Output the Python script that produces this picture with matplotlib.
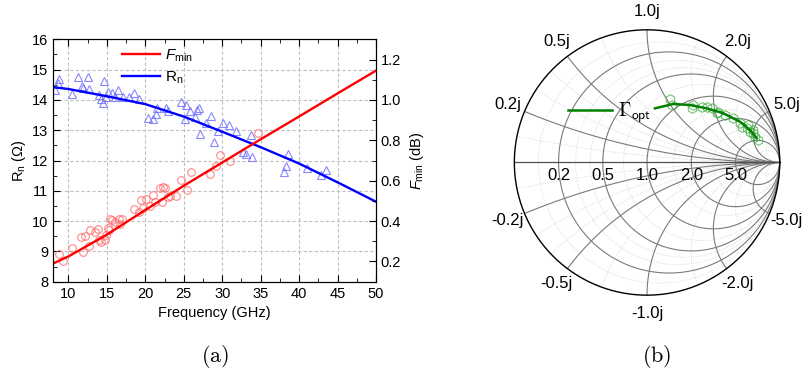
import numpy as np
import matplotlib
matplotlib.use('Agg')
import matplotlib.pyplot as plt
from matplotlib.ticker import MultipleLocator, AutoMinorLocator
from matplotlib.lines import Line2D

plt.rcParams['font.family'] = ['Liberation Sans', 'DejaVu Sans']
plt.rcParams['mathtext.fontset'] = 'custom'
plt.rcParams['mathtext.rm'] = 'Liberation Sans'
plt.rcParams['mathtext.it'] = 'Liberation Sans:italic'

# fitted noise parameters vs frequency
freq_fit = [8, 10, 15, 20, 25, 30, 35, 40, 45, 50]
fmin_fit = [0.19, 0.225, 0.333, 0.455, 0.575, 0.69, 0.805, 0.918, 1.032, 1.145]
rn_fit = [14.42, 14.36, 14.12, 13.86, 13.45, 12.95, 12.44, 11.9, 11.28, 10.64]

# measured Rn (ohm)
rn_freq = [8.2, 8.6, 8.83, 10.43, 11.3, 11.74, 11.9, 12.5, 12.65, 14.0, 14.26, 14.47,
           14.69, 14.9, 15.12, 15.7, 16.0, 16.5, 17.1, 17.9, 18.5, 19.2, 20.4, 21.0,
           21.4, 21.55, 22.7, 22.9, 24.7, 25.3, 25.1, 25.85, 26.4, 26.7, 27.0, 27.06,
           27.85, 28.5, 28.9, 29.45, 30.1, 30.9, 31.75, 32.7, 33.1, 33.8, 33.9, 38.1,
           38.35, 38.6, 41.0, 42.8, 43.55]
rn_meas = [14.33, 14.55, 14.69, 14.18, 14.77, 14.46, 14.4, 14.75, 14.35, 14.16, 14.02, 13.89,
           14.62, 14.09, 14.27, 14.24, 14.1, 14.33, 14.1, 14.1, 14.24, 14.03, 13.39, 13.36,
           13.52, 13.72, 13.72, 13.63, 13.94, 13.83, 13.36, 13.63, 13.45, 13.67, 13.72, 12.86,
           13.23, 13.47, 12.62, 12.97, 13.23, 13.17, 12.99, 12.27, 12.2, 12.84, 12.13, 11.63,
           11.82, 12.22, 11.74, 11.52, 11.69]

# measured Fmin (dB)
f_freq = [8.83, 9.26, 10.48, 11.65, 11.87, 12.2, 12.65, 12.8, 13.4, 13.86, 13.95, 14.26,
          14.7, 14.9, 15.12, 15.34, 15.47, 15.7, 16.0, 16.55, 16.7, 16.99, 18.47, 19.16,
          19.47, 19.68, 20.1, 20.55, 21.0, 21.2, 21.85, 22.16, 22.3, 22.6, 22.9, 23.2,
          24.0, 24.7, 25.46, 25.9, 28.45, 29.15, 29.7, 31.06, 34.67]
f_meas = [0.238, 0.2, 0.266, 0.321, 0.246, 0.324, 0.275, 0.354, 0.346, 0.363, 0.304, 0.296,
          0.308, 0.329, 0.366, 0.358, 0.409, 0.404, 0.396, 0.412, 0.384, 0.412, 0.462, 0.445,
          0.503, 0.467, 0.508, 0.475, 0.528, 0.495, 0.562, 0.495, 0.57, 0.562, 0.52, 0.523,
          0.525, 0.603, 0.553, 0.641, 0.633, 0.674, 0.727, 0.699, 0.835]

# optimum source reflection coefficient
gopt_re = [0.06, 0.198, 0.324, 0.45, 0.575, 0.701, 0.776, 0.827]
gopt_im = [0.408, 0.441, 0.433, 0.408, 0.371, 0.307, 0.245, 0.182]
gmeas_re = [0.173, 0.186, 0.337, 0.349, 0.45, 0.487, 0.537, 0.588, 0.65, 0.701, 0.713,
            0.751, 0.776, 0.801, 0.814, 0.839, 0.801, 0.763, 0.412, 0.525]
gmeas_im = [0.476, 0.433, 0.408, 0.433, 0.42, 0.408, 0.383, 0.358, 0.333, 0.295, 0.27,
            0.258, 0.232, 0.22, 0.194, 0.17, 0.245, 0.283, 0.42, 0.371]

smith_major = [0.2, 0.5, 1.0, 2.0, 5.0]
smith_minor = [0.1, 0.3, 0.4, 0.7, 1.5, 3.0, 10.0]

fig = plt.figure(figsize=(8.06, 3.74), dpi=100)

# ---- (a) noise parameters ----
ax = fig.add_axes([0.0658, 0.2468, 0.4007, 0.6481])
ax2 = ax.twinx()
ax.plot(rn_freq, rn_meas, '^', ms=6, mfc='none', mec='#6a6aff', mew=0.8, alpha=0.8)
ax2.plot(f_freq, f_meas, 'o', ms=5.5, mfc='none', mec='#ff6a6a', mew=0.8, alpha=0.8)
ax2.plot(freq_fit, fmin_fit, color='red', lw=1.7)
ax.plot(freq_fit, rn_fit, color='blue', lw=1.7)

ax.set_xlim(8, 50)
ax.set_ylim(8, 16)
ax2.set_ylim(0.1, 1.3)
ax.xaxis.set_major_locator(MultipleLocator(5))
ax.xaxis.set_minor_locator(AutoMinorLocator(2))
ax.yaxis.set_major_locator(MultipleLocator(1))
ax.yaxis.set_minor_locator(AutoMinorLocator(2))
ax2.yaxis.set_major_locator(MultipleLocator(0.2))
ax2.yaxis.set_minor_locator(AutoMinorLocator(2))
ax2.set_yticks(np.arange(0.2, 1.21, 0.2))
ax2.set_yticklabels(['0.2', '0.4', '0.6', '0.8', '1.0', '1.2'])
ax.grid(True, which='major', ls=(0, (3, 2)), color='#c0c0c0', lw=0.8)
ax.tick_params(which='both', direction='in', top=True, labelsize=10.5)
ax.tick_params(which='major', length=5)
ax.tick_params(which='minor', length=3)
ax2.tick_params(which='both', direction='in', labelsize=10.5)
ax2.tick_params(which='major', length=5)
ax2.tick_params(which='minor', length=3)
ax.set_xlabel('Frequency (GHz)', fontsize=10.5, labelpad=4)
ax.set_ylabel('R$_\\mathrm{n}$ (Ω)', fontsize=10.5, labelpad=3)
ax2.set_ylabel('$F_\\mathrm{min}$ (dB)', fontsize=10.5, rotation=90, labelpad=5)

handles = [Line2D([], [], color='red', lw=1.7), Line2D([], [], color='blue', lw=1.7)]
ax.legend(handles, ['$F_\\mathrm{min}$', 'R$_\\mathrm{n}$'], loc='upper left',
          bbox_to_anchor=(0.213, 0.965), frameon=False, fontsize=11, borderpad=0,
          handlelength=2.5, handletextpad=0.35, labelspacing=0.35, borderaxespad=0)

# ---- (b) Smith chart of Gamma_opt ----
sax = fig.add_axes([0.6052, 0.1398, 0.3951, 0.8515])
sax.set_xlim(-1.2, 1.2)
sax.set_ylim(-1.2, 1.2)
sax.set_aspect('equal')
sax.axis('off')

theta = np.linspace(0, 2 * np.pi, 400)
rr = np.concatenate([[0.0], np.logspace(-3, 4, 500)])


def const_r(r):
    c, rad = r / (1 + r), 1 / (1 + r)
    return c + rad * np.cos(theta), rad * np.sin(theta)


def const_x(x):
    g = (rr + 1j * x - 1) / (rr + 1j * x + 1)
    return np.append(g.real, 1.0), np.append(g.imag, 0.0)


for v in smith_minor:
    sax.plot(*const_r(v), color='#cfcfcf', lw=0.6, ls=':')
    sax.plot(*const_x(v), color='#cfcfcf', lw=0.6, ls=':')
    sax.plot(*const_x(-v), color='#cfcfcf', lw=0.6, ls=':')
for v in smith_major:
    sax.plot(*const_r(v), color='#7a7a7a', lw=0.8)
    sax.plot(*const_x(v), color='#7a7a7a', lw=0.8)
    sax.plot(*const_x(-v), color='#7a7a7a', lw=0.8)
sax.plot([-1, 1], [0, 0], color='#505050', lw=0.9)
sax.plot(np.cos(theta), np.sin(theta), color='black', lw=1.0)

for v in smith_major:
    sax.text((v - 1) / (v + 1), -0.1, f'{v:.1f}', ha='center', va='center', fontsize=12)
    ang = np.pi - 2 * np.arctan(v)
    for s in (1, -1):
        sax.text(1.14 * np.cos(ang), s * 1.14 * np.sin(ang), f'{s * v:.1f}j',
                 ha='center', va='center', fontsize=12, clip_on=False)

sax.plot(gmeas_re, gmeas_im, 'h', ms=7, mfc='none', mec='#3caa3c', mew=0.7, alpha=0.8)
sax.plot(gopt_re, gopt_im, color='#008000', lw=1.8)

leg = sax.legend([Line2D([], [], color='#008000', lw=1.8)], ['$\\Gamma_{\\mathsf{opt}}$'],
                 loc='center left', bbox_to_anchor=(0.22, 0.655), frameon=False,
                 fontsize=14, handlelength=2.3, handletextpad=0.3, borderpad=0)
leg.get_texts()[0].set_math_fontfamily('cm')

# panel captions
fig.text(215 / 806, 1 - 357 / 374, '$\\mathrm{(a)}$', ha='center', va='center',
         fontsize=16, math_fontfamily='cm')
fig.text(657 / 806, 1 - 357 / 374, '$\\mathrm{(b)}$', ha='center', va='center',
         fontsize=16, math_fontfamily='cm')

fig.savefig('out.png', dpi=100)
